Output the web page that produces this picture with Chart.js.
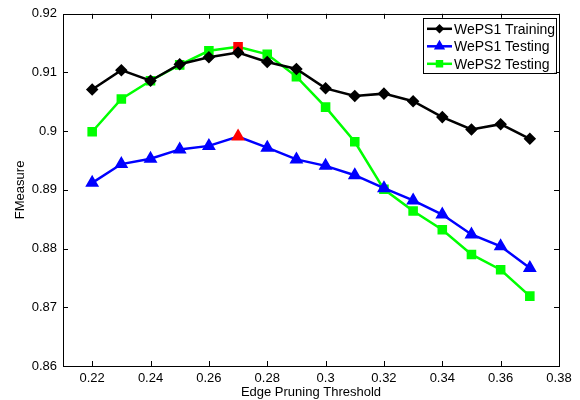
<!DOCTYPE html>
<html>
<head>
<meta charset="utf-8">
<script src="https://cdn.jsdelivr.net/npm/chart.js@4"></script>
<style>
  html, body { margin: 0; padding: 0; background: #fff; }
  #wrap { width: 580px; height: 400px; }
</style>
</head>
<body>
<div id="wrap"><canvas id="fm"></canvas></div>
<script>
// 枝刈り閾値
let thresholds = [0.22, 0.23, 0.24, 0.25, 0.26, 0.27, 0.28, 0.29, 0.30, 0.31, 0.32, 0.33, 0.34, 0.35, 0.36, 0.37];
let seriesNames = ["WePS1 Training", "WePS1 Testing", "WePS2 Testing"];
let weps1Training = [0.9071, 0.9104, 0.9086, 0.9114, 0.9126, 0.9134, 0.9118, 0.9106, 0.9073, 0.9060, 0.9064, 0.9051, 0.9024, 0.9003, 0.9012, 0.8987];
let weps1Testing = [0.8912, 0.8944, 0.8953, 0.8969, 0.8975, 0.8991, 0.8972, 0.8952, 0.8941, 0.8925, 0.8903, 0.8882, 0.8858, 0.8824, 0.8804, 0.8767];
let weps2Testing = [0.8999, 0.9055, 0.9086, 0.9113, 0.9137, 0.9144, 0.9131, 0.9093, 0.9041, 0.8982, 0.8901, 0.8864, 0.8832, 0.8790, 0.8764, 0.8719];
let xTicks = [0.22, 0.24, 0.26, 0.28, 0.30, 0.32, 0.34, 0.36, 0.38];
let yTicks = [0.86, 0.87, 0.88, 0.89, 0.90, 0.91, 0.92];
let bestIndex = 5; // 0.27 の点は赤で表示

const FONT = "'Liberation Sans', Arial, Helvetica, sans-serif";

function toPoints(values) {
    return values.map((v, i) => ({ x: thresholds[i], y: v }));
}

function markerColors(base, highlight) {
    return thresholds.map((t, i) => (highlight && i === bestIndex) ? '#ff0000' : base);
}

function fmt(v) {
    return String(Number(v.toFixed(2)));
}

// MATLAB風の枠線と内向きの目盛り
const boxPlugin = {
    id: 'box',
    afterDatasetsDraw(chart) {
        const ctx = chart.ctx;
        const a = chart.chartArea;
        const xs = chart.scales.x, ys = chart.scales.y;
        const len = 5;
        ctx.save();
        ctx.strokeStyle = '#000';
        ctx.lineWidth = 1;
        ctx.beginPath();
        xTicks.forEach(t => {
            const px = Math.round(xs.getPixelForValue(t)) + 0.5;
            ctx.moveTo(px, a.bottom); ctx.lineTo(px, a.bottom - len);
            ctx.moveTo(px, a.top); ctx.lineTo(px, a.top + len);
        });
        yTicks.forEach(t => {
            const py = Math.round(ys.getPixelForValue(t)) + 0.5;
            ctx.moveTo(a.left, py); ctx.lineTo(a.left + len, py);
            ctx.moveTo(a.right, py); ctx.lineTo(a.right - len, py);
        });
        ctx.stroke();
        ctx.strokeRect(Math.round(a.left) + 0.5, Math.round(a.top) + 0.5,
                       Math.round(a.right - a.left), Math.round(a.bottom - a.top));
        ctx.restore();
    }
};

// 凡例（プロット内の右上）
const legendPlugin = {
    id: 'boxLegend',
    afterDraw(chart) {
        const ctx = chart.ctx;
        const a = chart.chartArea;
        const w = 133, h = 55;
        const x0 = a.right - 3 - w, y0 = a.top + 4;
        ctx.save();
        ctx.fillStyle = '#fff';
        ctx.fillRect(x0, y0, w, h);
        ctx.strokeStyle = '#000';
        ctx.lineWidth = 1;
        ctx.strokeRect(Math.round(x0) + 0.5, Math.round(y0) + 0.5, w, h);
        ctx.font = '14px ' + FONT;
        ctx.textBaseline = 'middle';
        chart.data.datasets.forEach((ds, i) => {
            const y = y0 + 11 + i * 17.5;
            ctx.strokeStyle = ds.borderColor;
            ctx.lineWidth = 2.5;
            ctx.beginPath();
            ctx.moveTo(x0 + 4, y);
            ctx.lineTo(x0 + 29, y);
            ctx.stroke();
            Chart.helpers.drawPoint(ctx, {
                pointStyle: ds.pointStyle,
                radius: ds.pointRadius - 1.5,
                borderWidth: 1
            }, x0 + 16.5, y);
            ctx.fillStyle = ds.borderColor;
            ctx.fill();
            ctx.fillStyle = '#000';
            ctx.fillText(ds.label, x0 + 31, y + 1);
        });
        ctx.restore();
    }
};

window.onload = function () {
    let context = document.querySelector('#fm').getContext('2d');

    new Chart(context, {
        type: 'line',
        data: {
            datasets: [
                {
                    label: seriesNames[0],
                    data: toPoints(weps1Training),
                    borderColor: '#000000',
                    backgroundColor: '#000000',
                    pointBackgroundColor: markerColors('#000000', false),
                    pointBorderColor: markerColors('#000000', false),
                    pointStyle: 'rectRot',
                    pointRadius: 4.5,
                    borderWidth: 2.5
                },
                {
                    label: seriesNames[1],
                    data: toPoints(weps1Testing),
                    borderColor: '#0000ff',
                    backgroundColor: '#0000ff',
                    pointBackgroundColor: markerColors('#0000ff', true),
                    pointBorderColor: markerColors('#0000ff', true),
                    pointStyle: 'triangle',
                    pointRadius: 5.5,
                    borderWidth: 2.5
                },
                {
                    label: seriesNames[2],
                    data: toPoints(weps2Testing),
                    borderColor: '#00ff00',
                    backgroundColor: '#00ff00',
                    pointBackgroundColor: markerColors('#00ff00', true),
                    pointBorderColor: markerColors('#00ff00', true),
                    pointStyle: 'rect',
                    pointRadius: 5,
                    borderWidth: 2.5
                }
            ]
        },
        options: {
            responsive: true,
            maintainAspectRatio: false,
            animation: false,
            layout: { padding: { left: 0, right: 21, top: 11, bottom: 0 } },
            plugins: {
                legend: { display: false },
                tooltip: { enabled: false }
            },
            elements: { line: { tension: 0 } },
            scales: {
                x: {
                    type: 'linear',
                    min: 0.21,
                    max: 0.38,
                    afterBuildTicks: s => { s.ticks = xTicks.map(v => ({ value: v })); },
                    afterFit: s => { s.height = 34; },
                    grid: { display: false, drawTicks: false },
                    border: { display: false },
                    ticks: {
                        padding: 5,
                        color: '#000',
                        font: { family: FONT, size: 13 },
                        maxRotation: 0,
                        callback: v => fmt(v)
                    },
                    title: {
                        display: true,
                        text: 'Edge Pruning Threshold',
                        color: '#000',
                        font: { family: FONT, size: 13 },
                        padding: { top: 0, bottom: 0 }
                    }
                },
                y: {
                    min: 0.86,
                    max: 0.92,
                    afterBuildTicks: s => { s.ticks = yTicks.map(v => ({ value: v })); },
                    afterFit: s => { s.width = 63; },
                    grid: { display: false, drawTicks: false },
                    border: { display: false },
                    ticks: {
                        padding: 6,
                        color: '#000',
                        font: { family: FONT, size: 13 },
                        callback: v => fmt(v)
                    },
                    title: {
                        display: true,
                        text: 'FMeasure',
                        color: '#000',
                        font: { family: FONT, size: 13 },
                        padding: { top: 13, bottom: 0 }
                    }
                }
            }
        },
        plugins: [boxPlugin, legendPlugin]
    });
};
</script>
</body>
</html>
